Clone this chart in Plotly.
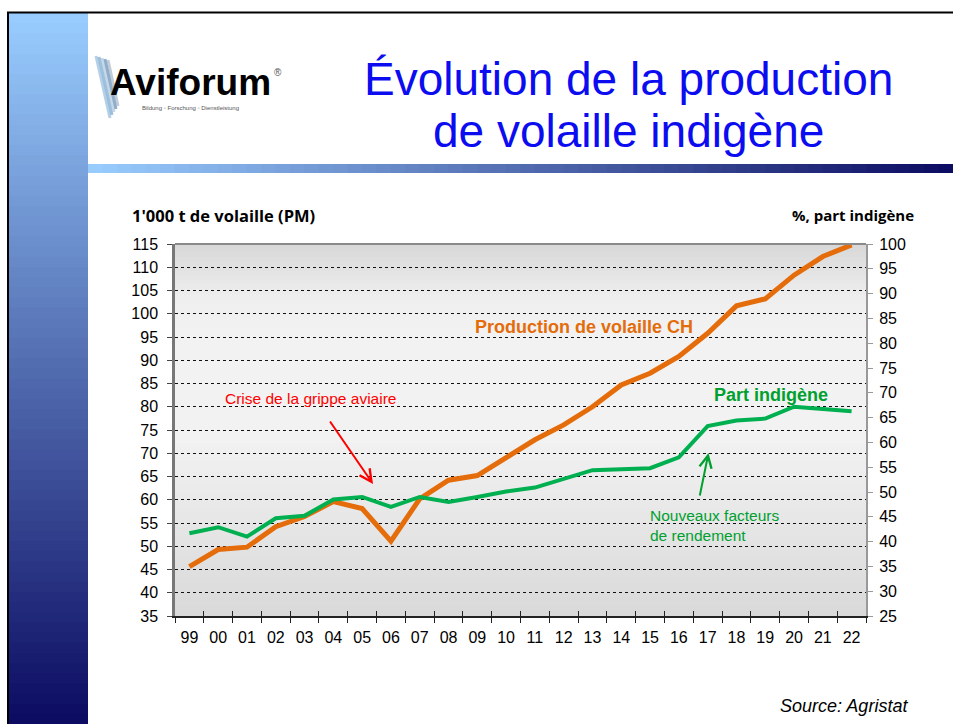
import plotly.graph_objects as go

# ---------------- data ----------------
years = ["99", "00", "01", "02", "03", "04", "05", "06", "07", "08", "09", "10",
         "11", "12", "13", "14", "15", "16", "17", "18", "19", "20", "21", "22"]
production_ch = [45.6, 49.3, 49.8, 54.2, 56.4, 59.6, 58.1, 51.1, 60.2, 64.2, 65.2, 68.9,
                 72.9, 76.1, 80.0, 84.7, 87.2, 90.8, 95.8, 101.7, 103.2, 108.3, 112.3, 114.8]
part_indigene = [41.7, 42.9, 41.0, 44.7, 45.2, 48.5, 49.0, 47.0, 49.0, 48.0, 49.0, 50.1,
                 50.9, 52.6, 54.4, 54.6, 54.8, 57.0, 63.3, 64.4, 64.8, 67.2, 66.7, 66.3]
left_range = [35, 115]
right_range = [25, 100]

W, H = 953, 724
L, R, T, B = 175, 87, 244, 108
PW, PH = W - L - R, H - T - B


def px(x):
    return (x - L) / PW


def py(y):
    return (H - B - y) / PH


def lerp(c1, c2, t):
    return tuple(int(round(a + (b - a) * t)) for a, b in zip(c1, c2))


def rgb(c):
    return "rgb(%d,%d,%d)" % c


shapes = []

# plot-area gradient background
stops = [(244, 215), (300, 239), (335, 242), (440, 242), (616, 217)]
n = 80
for i in range(n):
    y0 = T + PH * i / n
    y1 = T + PH * (i + 1) / n
    ym = (y0 + y1) / 2
    g = stops[-1][1]
    for (ya, ga), (yb, gb) in zip(stops[:-1], stops[1:]):
        if ya <= ym <= yb:
            g = ga + (gb - ga) * (ym - ya) / (yb - ya)
            break
    g = int(round(g))
    shapes.append(dict(type="rect", xref="paper", yref="paper", x0=0, x1=1,
                       y0=py(y1), y1=min(1, py(y0 - 1)), fillcolor=rgb((g, g, g)),
                       line=dict(width=0), layer="below"))

# left slide bar gradient
c_top, c_bot = (152, 204, 254), (12, 12, 98)
nb = 70
for i in range(nb):
    y0 = 13 + (H - 13) * i / nb
    y1 = 13 + (H - 13) * (i + 1) / nb
    shapes.append(dict(type="rect", xref="paper", yref="paper", x0=px(9), x1=px(88),
                       y0=py(y1 + 1), y1=py(y0), fillcolor=rgb(lerp(c_top, c_bot, i / (nb - 1))),
                       line=dict(width=0), layer="below"))

# header gradient bar
nh = 60
for i in range(nh):
    x0 = 88 + (W - 88) * i / nh
    x1 = 88 + (W - 88) * (i + 1) / nh
    shapes.append(dict(type="rect", xref="paper", yref="paper", x0=px(x0), x1=px(x1 + 1),
                       y0=py(173), y1=py(164), fillcolor=rgb(lerp(c_top, c_bot, i / (nh - 1))),
                       line=dict(width=0), layer="below"))

# black slide border lines
shapes.append(dict(type="line", xref="paper", yref="paper", x0=px(7), x1=px(W), y0=py(12.5), y1=py(12.5),
                   line=dict(color="black", width=2)))
shapes.append(dict(type="line", xref="paper", yref="paper", x0=px(8), x1=px(8), y0=py(12), y1=py(H),
                   line=dict(color="black", width=2)))

# top border of plot
shapes.append(dict(type="line", xref="paper", yref="paper", x0=0, x1=1, y0=1, y1=1,
                   line=dict(color="#8a8a8a", width=2)))

# logo feather
feather_cols = ["rgba(120,170,210,0.55)", "rgba(90,150,200,0.6)", "rgba(160,190,215,0.6)",
                "rgba(70,120,170,0.6)", "rgba(150,170,190,0.6)"]
for k, col in enumerate(feather_cols):
    shapes.append(dict(type="line", xref="paper", yref="paper",
                       x0=px(96 + k * 3), y0=py(56 + k), x1=px(110 + k * 2), y1=py(118 - k * 3),
                       line=dict(color=col, width=3)))

annotations = []


def txt(x, y, text, size, color="black", bold=False, italic=False, xanchor="left",
        family="Arial, Liberation Sans, sans-serif", align="left"):
    t = text
    if bold:
        t = "<b>%s</b>" % t
    if italic:
        t = "<i>%s</i>" % t
    annotations.append(dict(x=px(x), y=py(y), xref="paper", yref="paper", text=t,
                            showarrow=False, xanchor=xanchor, yanchor="middle", align=align,
                            font=dict(size=size, color=color, family=family)))


# logo text
txt(108, 83, "Aviforum", 37, bold=True)
txt(272, 72, "®", 10, color="#555")
txt(140, 108, "Bildung ◦ Forschung ◦ Dienstleistung", 6, color="#555")

# title
title_col = "#0c0cf0"
txt(628.5, 79, "Évolution de la production", 46, color=title_col, xanchor="center")
txt(628.5, 131, "de volaille indigène", 46, color=title_col, xanchor="center")

# axis titles
txt(130, 215, "1'000 t de volaille (PM)", 16.5, bold=True, family="Open Sans, sans-serif")
txt(916, 215, "%, part indigène", 15, bold=True, xanchor="right", family="Open Sans, sans-serif")

# series labels
orange = "#E46C0A"
green_line = "#00B050"
green_txt = "#00A030"
txt(473, 327, "Production de volaille CH", 18, color=orange, bold=True)
txt(712, 395, "Part indigène", 18, color=green_txt, bold=True)
txt(223, 398, "Crise de la grippe aviaire", 15.5, color="#FF0000")
txt(648, 525, "Nouveaux facteurs<br>de rendement", 15.5, color=green_txt)

# source
txt(910, 706, "Source: Agristat", 18, italic=True, xanchor="right")

# arrows
annotations.append(dict(x=px(373), y=py(484), xref="paper", yref="paper", text="",
                        showarrow=True, ax=-44, ay=-64, arrowcolor="#FF0000",
                        arrowwidth=2, arrowhead=5, arrowsize=1.2))
annotations.append(dict(x=px(708.5), y=py(453), xref="paper", yref="paper", text="",
                        showarrow=True, ax=-9, ay=44, arrowcolor="#00A030",
                        arrowwidth=2, arrowhead=5, arrowsize=1.2))

fig = go.Figure()
fig.add_trace(go.Scatter(x=years, y=production_ch, mode="lines", name="Production de volaille CH",
                         line=dict(color=orange, width=5), xaxis="x", yaxis="y"))
fig.add_trace(go.Scatter(x=years, y=part_indigene, mode="lines", name="Part indigène",
                         line=dict(color=green_line, width=4), xaxis="x", yaxis="y2"))
# helper trace for inside x ticks
fig.add_trace(go.Scatter(x=years, y=[None] * len(years), mode="lines", showlegend=False,
                         hoverinfo="skip", xaxis="x2", yaxis="y"))

tickfont = dict(family="Arial, Liberation Sans, sans-serif", size=16, color="black")

fig.update_layout(
    width=W, height=H,
    margin=dict(l=L, r=R, t=T, b=B, pad=0),
    paper_bgcolor="white",
    plot_bgcolor="rgba(0,0,0,0)",
    showlegend=False,
    shapes=shapes,
    annotations=annotations,
    xaxis=dict(type="category", categoryarray=years, categoryorder="array",
               range=[-0.5, len(years) - 0.5], tickson="boundaries",
               ticks="outside", ticklen=5, tickwidth=1, tickcolor="#222",
               showline=True, linecolor="#222", linewidth=1.5,
               showgrid=False, zeroline=False, tickfont=tickfont, ticklabelstandoff=6),
    xaxis2=dict(type="category", categoryarray=years, categoryorder="array",
                range=[-0.5, len(years) - 0.5], tickson="boundaries", overlaying="x",
                ticks="inside", ticklen=5, tickwidth=1, tickcolor="#222",
                showticklabels=False, showline=False, showgrid=False, zeroline=False),
    yaxis=dict(range=left_range, dtick=5, tick0=35, showgrid=True, griddash="dot",
               gridcolor="#111", gridwidth=1, zeroline=False,
               showline=True, linecolor="#777", linewidth=2.5,
               ticks="outside", ticklen=5, tickcolor="#444", tickfont=tickfont,
               ticklabelstandoff=6),
    yaxis2=dict(range=right_range, dtick=5, tick0=25, overlaying="y", side="right",
                showgrid=False, zeroline=False, showline=True, linecolor="#999", linewidth=2,
                ticks="outside", ticklen=5, tickcolor="#999", tickfont=tickfont,
                ticklabelstandoff=3),
)

fig.write_html("out.html", config={"displayModeBar": False},
               post_script="document.body.style.margin='0px';")
